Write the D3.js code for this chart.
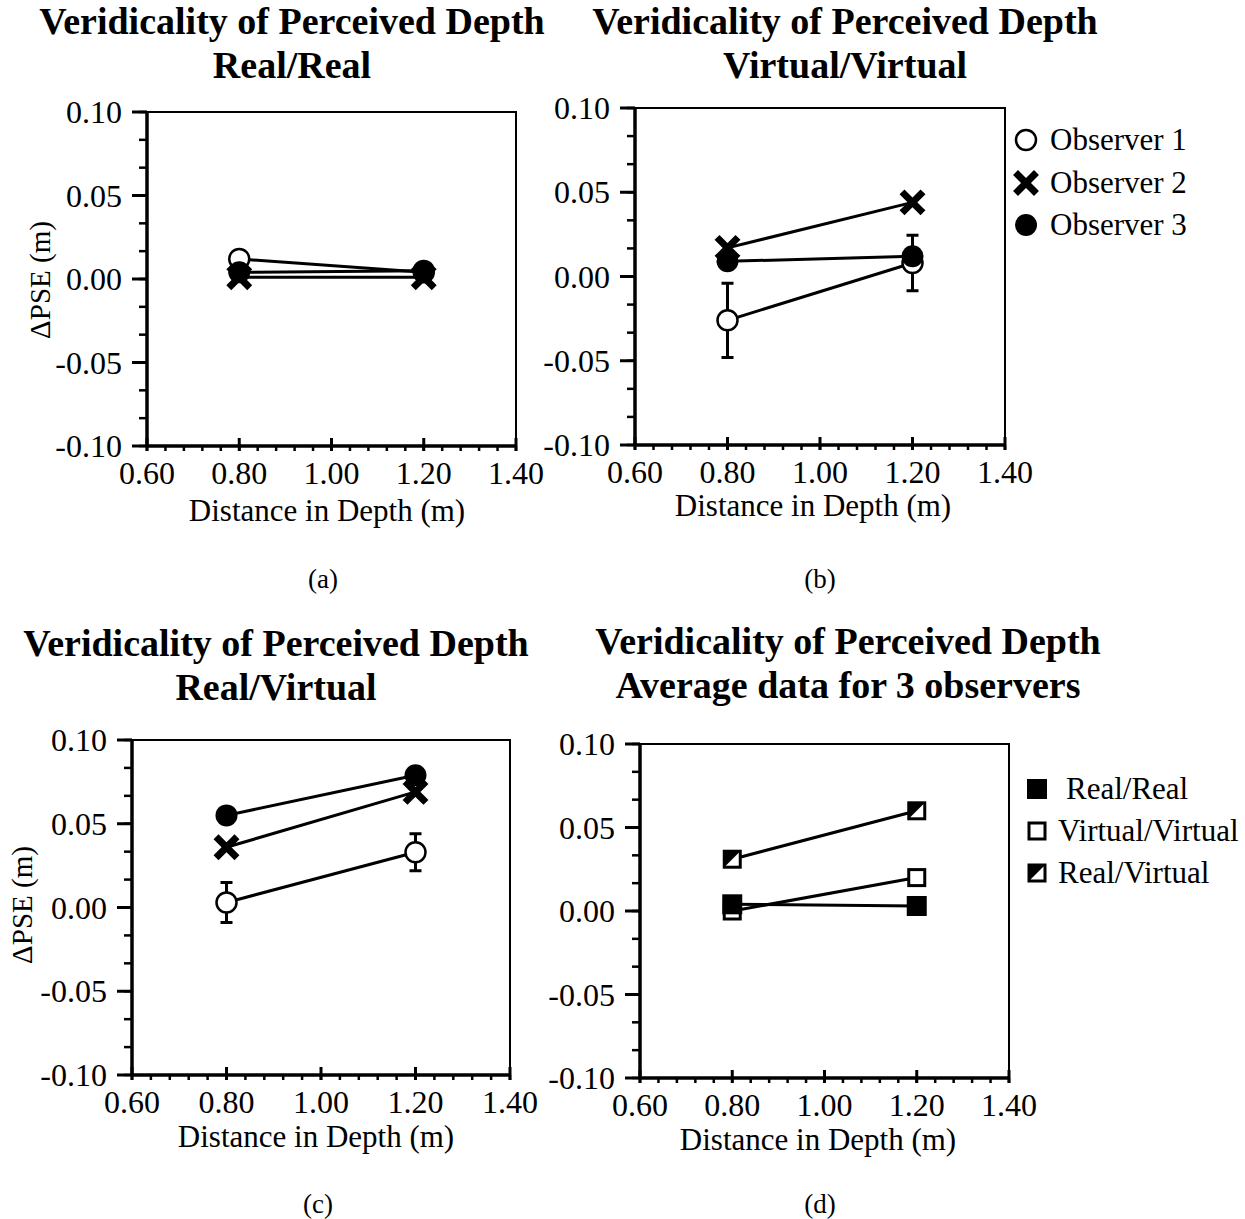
<!DOCTYPE html>
<html>
<head>
<meta charset="utf-8">
<script src="https://d3js.org/d3.v7.min.js"></script>
<style>
  body { margin: 0; background: #fff; }
  text { font-family: "Liberation Serif", "Times New Roman", serif; fill: #000; }
  .title { font-size: 38px; font-weight: bold; text-anchor: middle; }
  .tick-label { font-size: 32px; }
  .axis-label { font-size: 31px; text-anchor: middle; }
  .ylab { font-size: 29px; text-anchor: middle; }
  .caption { font-size: 27px; text-anchor: middle; }
  .legend text { font-size: 31px; }
</style>
</head>
<body>
<svg id="fig" width="1245" height="1219"></svg>
<script>
// ---- data ----
var distances = [0.80, 1.20];
var xTicks = [0.60, 0.80, 1.00, 1.20, 1.40];
var yTicks = [-0.10, -0.05, 0.00, 0.05, 0.10];
var observers = ["Observer 1", "Observer 2", "Observer 3"];
var conditions = ["Real/Real", "Virtual/Virtual", "Real/Virtual"];

// dPSE per observer, at 0.80 and 1.20 m
var realReal = [[0.012, 0.004], [0.001, 0.001], [0.004, 0.005]];
var virtualVirtual = [[-0.026, 0.008], [0.017, 0.044], [0.009, 0.012]];
var virtualVirtualErr = [[0.022, 0.0165], null, null];
var realVirtual = [[0.003, 0.033], [0.036, 0.069], [0.055, 0.079]];
var realVirtualErr = [[0.012, 0.011], null, null];
// averages over the 3 observers, one row per condition
var averages = [[0.004, 0.003], [0.000, 0.020], [0.031, 0.060]];

var svg = d3.select("#fig");
var fmt = function (v) { return d3.format(".2f")(v).replace("\u2212", "-"); };

// markers
function marker(g, kind, cx, cy) {
    var m = g.append("g").attr("transform", "translate(" + cx + "," + cy + ")");
    if (kind == "open") {
        m.append("circle").attr("r", 10).attr("fill", "#fff").attr("stroke", "#000").attr("stroke-width", 2.5);
    } else if (kind == "filled") {
        m.append("circle").attr("r", 11).attr("fill", "#000");
    } else if (kind == "x") {
        m.append("path").attr("d", "M-8,-8L8,8M-8,8L8,-8")
            .attr("stroke", "#000").attr("stroke-width", 7).attr("stroke-linecap", "square");
    } else if (kind == "sqFilled") {
        m.append("rect").attr("x", -9).attr("y", -9).attr("width", 18).attr("height", 18)
            .attr("fill", "#000").attr("stroke", "#000").attr("stroke-width", 2);
    } else if (kind == "sqOpen") {
        m.append("rect").attr("x", -8).attr("y", -8).attr("width", 16).attr("height", 16)
            .attr("fill", "#fff").attr("stroke", "#000").attr("stroke-width", 3);
    } else if (kind == "sqHalf") {
        m.append("rect").attr("x", -8).attr("y", -8).attr("width", 16).attr("height", 16)
            .attr("fill", "#fff").attr("stroke", "#000").attr("stroke-width", 3);
        m.append("path").attr("d", "M-8,-8L8,-8L-8,8Z").attr("fill", "#000");
    }
}

function drawPanel(p) {
    var g = svg.append("g");
    var x = d3.scaleLinear().domain([0.6, 1.4]).range([p.l, p.r]);
    var y = d3.scaleLinear().domain([-0.1, 0.1]).range([p.b, p.t]);

    // titles
    g.append("text").attr("class", "title").attr("x", p.tx).attr("y", p.ty).text(p.title[0]);
    g.append("text").attr("class", "title").attr("x", p.tx).attr("y", p.ty + 44).text(p.title[1]);

    // frame
    g.append("rect").attr("x", p.l).attr("y", p.t).attr("width", p.r - p.l).attr("height", p.b - p.t)
        .attr("fill", "none").attr("stroke", "#000").attr("stroke-width", 2);
    g.append("line").attr("x1", p.l).attr("x2", p.l).attr("y1", p.t).attr("y2", p.b)
        .attr("stroke", "#000").attr("stroke-width", 3.5);
    g.append("line").attr("x1", p.l).attr("x2", p.r).attr("y1", p.b).attr("y2", p.b)
        .attr("stroke", "#000").attr("stroke-width", 3.5);

    // y ticks
    var yMinor = d3.range(0, 13).map(function (i) { return -0.1 + i * 0.05 / 3; });
    g.selectAll(".ym").data(yMinor).enter().append("line")
        .attr("x1", p.l - 8).attr("x2", p.l).attr("y1", y).attr("y2", y)
        .attr("stroke", "#000").attr("stroke-width", 2.5);
    g.selectAll(".yM").data(yTicks).enter().append("line")
        .attr("x1", p.l - 15).attr("x2", p.l).attr("y1", y).attr("y2", y)
        .attr("stroke", "#000").attr("stroke-width", 3);
    g.selectAll(".yl").data(yTicks).enter().append("text")
        .attr("class", "tick-label").attr("text-anchor", "end")
        .attr("x", p.l - 25).attr("y", function (d) { return y(d) + 11; })
        .text(fmt);

    // x ticks
    var xMinor = d3.range(0, 21).map(function (i) { return 0.6 + i * 0.04; });
    g.selectAll(".xm").data(xMinor).enter().append("line")
        .attr("x1", x).attr("x2", x).attr("y1", p.b).attr("y2", p.b + 5)
        .attr("stroke", "#000").attr("stroke-width", 2.5);
    g.selectAll(".xM").data(xTicks).enter().append("line")
        .attr("x1", x).attr("x2", x).attr("y1", p.b - 8).attr("y2", p.b + 5)
        .attr("stroke", "#000").attr("stroke-width", 3);
    g.selectAll(".xl").data(xTicks).enter().append("text")
        .attr("class", "tick-label").attr("text-anchor", "middle")
        .attr("x", x).attr("y", p.b + 38)
        .text(fmt);

    // axis labels
    g.append("text").attr("class", "axis-label").attr("x", p.xlx).attr("y", p.xly).text("Distance in Depth (m)");
    if (p.yl) {
        g.append("text").attr("class", "ylab")
            .attr("transform", "translate(" + p.yl[0] + "," + p.yl[1] + ") rotate(-90)")
            .attr("dy", "0.35em").text("\u0394PSE (m)");
    }
    g.append("text").attr("class", "caption").attr("x", p.cx).attr("y", p.cy).text(p.caption);

    // series lines
    var line = d3.line().x(function (d, i) { return x(distances[i]); }).y(function (d) { return y(d); });
    p.series.forEach(function (s) {
        g.append("path").attr("d", line(s.values)).attr("fill", "none")
            .attr("stroke", "#000").attr("stroke-width", 3);
    });
    // error bars
    p.series.forEach(function (s) {
        if (!s.err) return;
        s.values.forEach(function (v, i) {
            var cx = x(distances[i]);
            var e = s.err[i];
            g.append("path")
                .attr("d", "M" + cx + "," + y(v - e) + "V" + y(v + e) +
                    "M" + (cx - 6) + "," + y(v + e) + "H" + (cx + 6) +
                    "M" + (cx - 6) + "," + y(v - e) + "H" + (cx + 6))
                .attr("stroke", "#000").attr("stroke-width", 3).attr("fill", "none");
        });
    });
    // markers
    p.series.forEach(function (s) {
        s.values.forEach(function (v, i) { marker(g, s.kind, x(distances[i]), y(v)); });
    });
}

var obsKinds = ["open", "x", "filled"];
var condKinds = ["sqFilled", "sqOpen", "sqHalf"];

drawPanel({
    l: 147, r: 516, t: 112, b: 446, tx: 292, ty: 34,
    title: ["Veridicality of Perceived Depth", "Real/Real"],
    xlx: 327, xly: 521, yl: [40, 280], cx: 323, cy: 588, caption: "(a)",
    series: realReal.map(function (v, i) { return { values: v, kind: obsKinds[i] }; })
});
drawPanel({
    l: 635, r: 1005, t: 108, b: 445, tx: 845, ty: 34,
    title: ["Veridicality of Perceived Depth", "Virtual/Virtual"],
    xlx: 813, xly: 516, yl: null, cx: 820, cy: 588, caption: "(b)",
    series: virtualVirtual.map(function (v, i) { return { values: v, err: virtualVirtualErr[i], kind: obsKinds[i] }; })
});
drawPanel({
    l: 132, r: 510, t: 740, b: 1075, tx: 276, ty: 656,
    title: ["Veridicality of Perceived Depth", "Real/Virtual"],
    xlx: 316, xly: 1147, yl: [22, 905], cx: 318, cy: 1213, caption: "(c)",
    series: realVirtual.map(function (v, i) { return { values: v, err: realVirtualErr[i], kind: obsKinds[i] }; })
});
// panel d: draw open squares first so the filled one sits on top
var dOrder = [1, 0, 2];
drawPanel({
    l: 640, r: 1009, t: 744, b: 1078, tx: 848, ty: 654,
    title: ["Veridicality of Perceived Depth", "Average data for 3 observers"],
    xlx: 818, xly: 1150, yl: null, cx: 820, cy: 1213, caption: "(d)",
    series: dOrder.map(function (i) { return { values: averages[i], kind: condKinds[i] }; })
});

// legends
var leg1 = svg.append("g").attr("class", "legend");
var leg1Y = [140, 183, 225];
observers.forEach(function (name, i) {
    marker(leg1, obsKinds[i], 1026, leg1Y[i]);
    leg1.append("text").attr("x", 1050).attr("y", leg1Y[i] + 10).text(name);
});

var leg2 = svg.append("g").attr("class", "legend");
var leg2Y = [789, 831, 873];
conditions.forEach(function (name, i) {
    marker(leg2, condKinds[i], 1037, leg2Y[i]);
    leg2.append("text").attr("x", i == 0 ? 1066 : 1058).attr("y", leg2Y[i] + 10).text(name);
});
</script>
</body>
</html>
